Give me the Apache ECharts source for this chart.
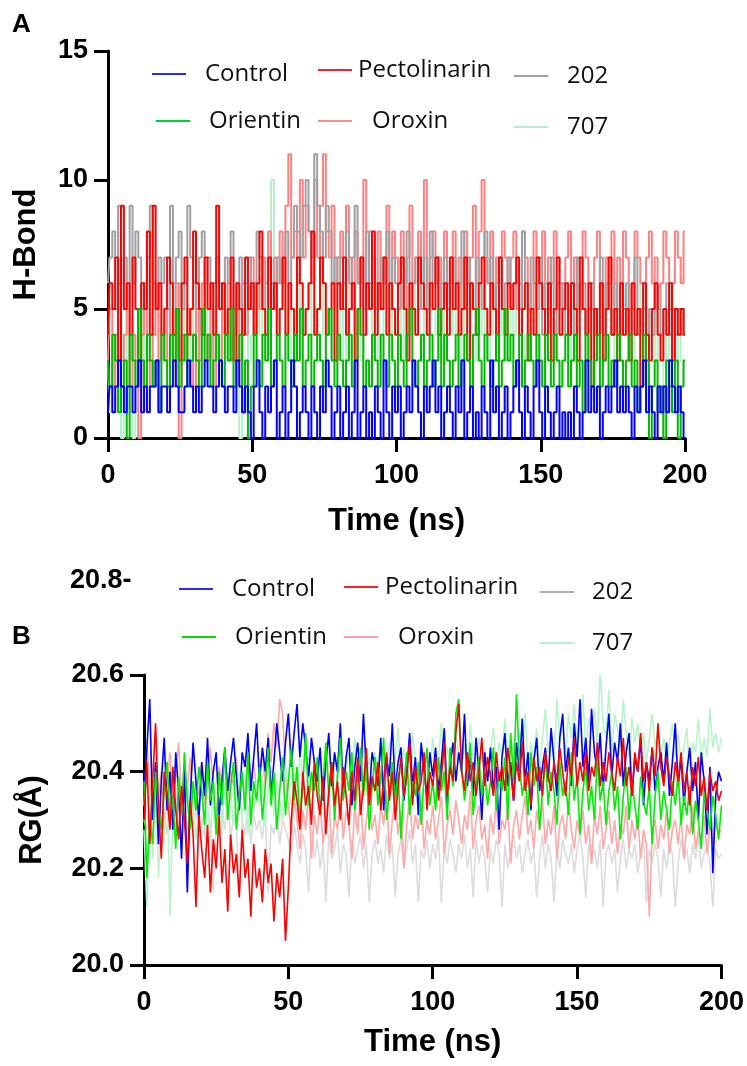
<!DOCTYPE html>
<html>
<head>
<meta charset="utf-8">
<script src="https://cdn.jsdelivr.net/npm/echarts@6/dist/echarts.min.js"></script>
<style>
  html, body { margin: 0; padding: 0; background: #fff; }
  #chart { width: 747px; height: 1066px; }
</style>
</head>
<body>
<div id="chart"></div>
<script>
// panel A: hydrogen bonds, one value per ns (0..200)
var hbControl = [
  1,2,1,2,3,2,1,2,2,1,2,3,1,2,1,2,2,3,1,2,
  2,1,2,3,2,1,1,2,3,2,1,2,1,2,3,2,2,1,2,3,
  2,1,2,2,1,3,2,1,2,1,0,2,3,1,0,2,1,2,3,0,
  1,2,0,1,3,2,0,1,2,1,0,2,1,0,2,1,3,2,0,1,
  2,0,1,2,0,1,3,0,1,2,0,1,0,2,1,0,3,1,0,2,
  1,2,0,1,2,1,3,2,1,0,2,1,2,3,1,2,0,1,2,1,
  0,2,1,3,0,1,2,0,1,0,2,1,0,3,1,2,0,1,2,0,
  1,2,3,1,0,2,1,0,2,3,1,0,2,1,0,1,2,0,1,0,
  1,0,2,1,0,1,3,1,2,1,2,0,1,2,1,2,3,1,2,1,
  2,1,0,2,1,2,3,1,2,1,0,2,1,2,1,3,2,1,2,1,
  0
];
var hbOrientin = [
  3,2,4,3,1,2,3,0,4,3,2,5,3,2,4,3,2,3,1,4,
  3,2,4,3,5,2,3,4,2,3,4,3,2,5,3,4,2,3,4,3,
  2,4,3,5,2,3,4,1,3,0,2,4,3,2,4,3,5,2,3,4,
  3,2,4,3,2,4,3,5,2,3,4,2,3,4,3,2,4,5,3,2,
  4,3,2,3,4,2,3,5,4,2,3,2,4,3,2,4,3,2,4,3,
  2,4,3,2,4,5,3,2,3,4,2,3,4,2,3,5,2,4,3,2,
  3,4,2,3,4,3,2,4,5,3,2,4,3,2,3,4,2,3,5,3,
  4,2,3,4,2,3,4,3,2,4,3,2,4,3,2,4,3,2,3,4,
  2,3,4,2,3,1,4,3,2,3,4,2,3,4,2,3,2,4,3,2,
  3,4,2,3,1,2,4,3,0,2,3,1,2,0,3,2,1,3,0,2,
  3
];
var hbPectolinarin = [
  4,6,5,7,3,9,5,6,4,7,5,3,6,5,8,4,9,5,6,4,
  5,7,6,4,5,3,6,7,4,5,8,6,5,4,7,5,6,4,9,5,
  6,4,5,7,3,6,5,4,7,5,6,4,6,8,5,4,7,5,6,4,
  5,7,4,6,5,3,7,6,4,5,6,8,4,5,7,6,4,5,6,3,
  6,5,7,4,5,6,3,5,7,4,6,5,8,4,6,5,7,4,6,5,
  4,6,7,5,3,6,5,4,7,6,5,4,6,5,7,4,5,6,4,7,
  5,6,4,5,7,3,6,5,4,6,7,5,4,6,5,3,7,5,4,6,
  5,6,7,4,5,6,3,5,4,7,6,5,4,6,3,5,7,4,5,6,
  4,6,5,3,7,5,4,6,2,5,4,6,3,5,7,4,5,3,6,4,
  5,3,6,4,5,2,6,4,3,5,6,4,3,5,4,6,3,5,4,5,
  4
];
var hbOroxin = [
  3,5,2,4,6,3,4,5,2,4,3,0,4,5,3,2,4,6,3,4,
  3,5,4,2,6,0,4,3,5,4,2,5,3,6,4,3,5,2,4,3,
  5,4,6,3,4,5,3,6,4,5,7,4,6,5,7,6,8,5,7,6,
  8,6,9,11,7,8,6,10,7,9,8,6,10,7,9,11,8,7,9,6,
  7,8,6,9,7,5,8,6,7,10,6,8,7,5,8,6,7,9,6,8,
  7,6,8,5,7,9,6,7,8,5,10,6,7,8,6,7,5,8,6,7,
  8,6,7,5,8,6,7,9,6,8,10,7,6,8,5,7,6,8,7,6,
  7,8,5,6,8,7,6,5,8,7,6,8,5,7,6,8,7,6,5,7,
  8,6,7,5,6,8,7,6,5,7,8,6,5,7,6,8,5,7,6,8,
  7,5,6,8,7,6,5,7,8,6,7,5,6,8,7,5,6,8,7,6,
  8
];
var hb202 = [
  6,7,8,5,9,6,7,5,9,6,8,7,5,6,7,9,6,5,7,6,
  7,5,9,6,7,8,5,6,9,7,6,5,7,8,6,7,5,6,7,6,
  5,7,6,8,5,6,7,5,6,7,5,6,8,7,5,6,7,6,5,7,
  6,7,8,6,7,9,8,7,9,10,8,7,11,9,8,7,9,8,6,7,
  6,7,5,8,6,7,9,6,7,5,8,6,7,6,5,7,6,8,5,7,
  6,5,7,6,8,5,6,7,5,6,7,5,8,6,7,5,6,7,5,6,
  7,5,6,8,5,7,6,5,7,6,5,8,6,7,5,6,7,5,6,7,
  5,6,7,5,8,6,5,7,6,5,7,4,6,5,7,4,6,5,6,4,
  5,6,4,7,5,6,4,5,6,4,5,7,4,6,5,4,6,5,4,5,
  6,4,5,7,4,5,6,4,5,4,6,5,4,5,6,4,5,4,5,4,
  5
];
var hb707 = [
  3,1,4,2,5,0,3,4,1,0,3,4,2,5,3,4,2,3,4,5,
  4,3,5,4,3,6,4,5,3,4,5,3,4,6,5,4,3,5,4,3,
  5,4,3,5,4,6,0,4,5,3,4,5,6,4,5,3,4,10,5,4,
  5,6,4,5,3,4,6,5,4,5,6,4,5,3,4,6,5,4,5,6,
  4,5,3,4,6,5,4,5,3,4,5,6,4,5,3,4,6,5,4,5,
  5,4,6,3,5,4,5,6,4,3,5,4,6,5,4,3,5,4,6,5,
  4,5,3,6,4,5,4,3,5,6,4,5,3,4,5,6,4,5,3,4,
  5,4,6,5,3,4,5,4,6,3,5,4,5,6,4,3,5,4,5,6,
  4,3,5,4,6,5,4,3,5,4,5,3,4,6,5,4,3,5,4,5,
  4,5,3,4,5,6,4,3,5,4,3,5,4,0,4,3,5,4,3,4,
  5
];

// panel B: radius of gyration (Å), one value per ns (0..200)
var rgControl = [
  20.35,20.45,20.55,20.30,20.42,20.25,20.38,20.47,20.32,20.40,20.28,20.44,20.36,20.22,20.41,20.15,20.34,20.46,20.38,20.30,
  20.42,20.35,20.47,20.33,20.40,20.44,20.31,20.38,20.45,20.36,20.42,20.47,20.39,20.32,20.44,20.41,20.48,20.36,20.43,20.50,
  20.38,20.45,20.40,20.47,20.35,20.42,20.50,20.44,20.38,20.46,20.52,20.41,20.48,20.54,20.43,20.50,20.45,20.39,20.47,20.42,
  20.38,20.45,20.34,20.42,20.48,20.37,20.44,20.40,20.50,20.36,20.43,20.47,20.33,20.41,20.46,20.38,20.52,20.40,20.35,20.44,
  20.41,20.37,20.47,20.32,20.43,20.39,20.50,20.36,20.42,20.45,20.34,20.40,20.48,20.37,20.43,20.31,20.46,20.40,20.35,20.44,
  20.39,20.45,20.36,20.42,20.49,20.33,20.41,20.46,20.38,20.44,20.40,20.52,20.37,20.43,20.35,20.47,20.40,20.30,20.44,20.38,
  20.45,20.36,20.41,20.28,20.43,20.48,20.37,20.42,20.34,20.46,20.40,20.51,20.38,20.44,20.32,20.42,20.47,20.36,20.41,20.45,
  20.38,20.49,20.42,20.35,20.47,20.52,20.40,20.45,20.37,20.50,20.43,20.55,20.41,20.47,20.38,20.53,20.44,20.40,20.48,20.36,
  20.45,20.52,20.39,20.46,20.42,20.50,20.37,20.44,20.48,20.35,20.43,20.40,20.47,20.33,20.42,20.38,20.45,20.36,20.41,20.44,
  20.38,20.46,20.35,20.42,20.50,20.37,20.43,20.33,20.40,20.45,20.36,20.42,20.30,20.44,20.38,20.27,20.41,20.19,20.35,20.40,
  20.38
];
var rgOrientin = [
  20.38,20.18,20.30,20.25,20.40,20.33,20.28,20.36,20.42,20.30,20.35,20.24,20.39,20.31,20.44,20.34,20.28,20.38,20.32,20.41,
  20.36,20.29,20.42,20.34,20.38,20.27,20.40,20.33,20.45,20.30,20.37,20.42,20.28,20.35,20.40,20.32,20.44,20.29,20.38,20.34,
  20.41,20.30,20.37,20.45,20.33,20.40,20.28,20.36,20.43,20.31,20.38,20.45,20.34,20.41,20.29,20.37,20.48,20.33,20.40,20.36,
  20.43,20.31,20.38,20.46,20.35,20.42,20.30,20.39,20.47,20.34,20.40,20.36,20.44,20.32,20.38,20.45,20.35,20.41,20.28,20.37,
  20.43,20.33,20.39,20.47,20.30,20.36,20.42,20.34,20.40,20.26,20.37,20.44,20.31,20.38,20.35,20.42,20.29,20.39,20.45,20.33,
  20.38,20.32,20.43,20.36,20.40,20.30,20.45,20.37,20.52,20.55,20.41,20.34,20.39,20.46,20.31,20.37,20.43,20.35,20.40,20.33,
  20.38,20.45,20.32,20.40,20.36,20.43,20.30,20.48,20.38,20.56,20.42,20.35,20.39,20.31,20.44,20.37,20.41,20.28,20.36,20.43,
  20.33,20.40,20.36,20.29,20.42,20.35,20.38,20.31,20.44,20.34,20.39,20.27,20.36,20.41,20.32,20.37,20.30,20.43,20.34,20.38,
  20.29,20.36,20.40,20.32,20.37,20.26,20.35,20.41,20.30,20.38,20.33,20.28,20.39,20.34,20.31,20.37,20.25,20.35,20.40,20.30,
  20.36,20.32,20.28,20.38,20.33,20.40,20.29,20.35,20.31,20.37,20.27,20.34,20.30,20.24,20.36,20.32,20.28,20.35,20.31,20.26,
  20.33
];
var rgPectolinarin = [
  20.30,20.42,20.25,20.38,20.50,20.33,20.22,20.40,20.35,20.28,20.41,20.32,20.26,20.37,20.30,20.21,20.34,20.27,20.12,20.31,
  20.24,20.18,20.29,20.15,20.26,20.20,20.31,20.17,20.24,20.11,20.27,20.19,20.23,20.14,20.28,20.18,20.22,20.10,20.25,20.16,
  20.20,20.13,20.24,20.17,20.21,20.09,20.19,20.14,20.22,20.05,20.16,20.30,20.38,20.34,20.28,20.40,20.33,20.37,20.29,20.42,
  20.35,20.31,20.39,20.27,20.36,20.42,20.33,20.38,20.30,20.41,20.35,20.29,20.40,20.34,20.43,20.31,20.37,20.45,20.33,20.39,
  20.36,20.42,20.32,20.38,20.44,20.34,20.40,20.30,20.37,20.43,20.35,20.39,20.46,20.33,20.41,20.36,20.38,20.44,20.32,20.40,
  20.37,20.43,20.34,20.39,20.46,20.35,20.41,20.38,20.48,20.54,20.40,20.36,20.44,20.38,20.42,20.35,20.40,20.47,20.37,20.43,
  20.39,20.35,20.44,20.38,20.41,20.36,20.45,20.40,20.34,20.42,20.38,20.46,20.36,20.40,20.33,20.43,20.38,20.41,20.35,20.44,
  20.39,20.36,20.42,20.38,20.45,20.40,20.35,20.43,20.39,20.47,20.37,20.42,20.38,20.44,20.36,20.41,20.39,20.46,20.37,20.42,
  20.38,20.44,20.40,20.36,20.43,20.39,20.47,20.37,20.41,20.35,20.44,20.40,20.48,20.38,20.42,20.36,20.45,20.39,20.50,20.41,
  20.37,20.43,20.39,20.35,20.42,20.38,20.44,20.36,20.40,20.33,20.41,20.37,20.43,20.35,20.39,20.32,20.40,20.36,20.38,20.34,
  20.36
];
var rgOroxin = [
  20.33,20.45,20.38,20.30,20.42,20.35,20.40,20.28,20.37,20.44,20.32,20.39,20.46,20.34,20.41,20.36,20.43,20.31,20.38,20.35,
  20.42,20.33,20.39,20.45,20.36,20.30,20.41,20.38,20.44,20.34,20.40,20.37,20.43,20.32,20.39,20.35,20.46,20.38,20.42,20.36,
  20.40,20.44,20.37,20.48,20.42,20.50,20.45,20.55,20.52,20.40,20.33,20.27,20.35,20.30,20.24,20.32,20.28,20.36,20.22,20.31,
  20.27,20.34,20.25,20.30,20.36,20.23,20.31,20.28,20.35,20.26,20.32,20.29,20.22,20.33,20.27,20.36,20.24,20.30,20.34,20.28,
  20.31,20.25,20.33,20.29,20.36,20.23,20.30,20.34,20.27,20.32,20.20,20.29,20.35,20.26,20.31,20.28,20.34,20.24,20.30,20.27,
  20.33,20.26,20.30,20.35,20.23,20.29,20.32,20.27,20.34,20.30,20.25,20.31,20.28,20.36,20.24,20.30,20.33,20.26,20.29,20.22,
  20.31,20.27,20.34,20.25,20.30,20.28,20.33,20.21,20.29,20.32,20.26,20.31,20.35,20.27,20.30,20.24,20.32,20.28,20.34,20.25,
  20.30,20.27,20.33,20.22,20.29,20.31,20.26,20.34,20.28,20.24,20.30,20.27,20.32,20.25,20.29,20.21,20.31,20.27,20.33,20.24,
  20.28,20.32,20.25,20.30,20.23,20.29,20.27,20.33,20.24,20.30,20.26,20.31,20.22,20.28,20.25,20.10,20.27,20.30,20.24,20.29,
  20.26,20.32,20.23,20.28,20.30,20.25,20.31,20.22,20.29,20.27,20.33,20.24,20.28,20.26,20.31,20.23,20.29,20.25,20.30,20.27,
  20.28
];
var rg202 = [
  20.30,20.28,20.33,20.26,20.31,20.35,20.29,20.32,20.27,20.34,20.30,20.36,20.28,20.33,20.31,20.25,20.34,20.29,20.32,20.27,
  20.31,20.26,20.33,20.29,20.15,20.30,20.27,20.32,20.28,20.34,20.26,20.31,20.29,20.14,20.30,20.27,20.33,20.25,20.31,20.28,
  20.30,20.26,20.32,20.15,20.29,20.27,20.31,20.25,20.30,20.28,20.26,20.23,20.29,20.25,20.21,20.27,20.24,20.15,20.28,20.22,
  20.26,20.20,20.25,20.13,20.27,20.22,20.24,20.28,20.19,20.25,20.23,20.14,20.26,20.21,20.24,20.27,20.20,20.25,20.13,20.23,
  20.26,20.21,20.24,20.19,20.27,20.22,20.25,20.14,20.23,20.26,20.20,20.24,20.28,20.21,20.25,20.13,20.24,20.22,20.26,20.20,
  20.25,20.22,20.27,20.13,20.24,20.21,20.26,20.23,20.19,20.25,20.22,20.27,20.20,20.24,20.14,20.26,20.21,20.25,20.22,20.15,
  20.24,20.21,20.26,20.23,20.12,20.25,20.20,20.24,20.27,20.22,20.25,20.19,20.23,20.26,20.21,20.24,20.14,20.22,20.27,20.20,
  20.25,20.22,20.13,20.24,20.20,20.26,20.23,20.21,20.25,20.19,20.24,20.27,20.22,20.14,20.25,20.21,20.24,20.20,20.26,20.12,
  20.23,20.25,20.21,20.24,20.15,20.22,20.26,20.20,20.24,20.22,20.25,20.19,20.23,20.26,20.13,20.24,20.21,20.25,20.22,20.14,
  20.24,20.20,20.25,20.23,20.12,20.21,20.26,20.22,20.24,20.19,20.25,20.22,20.27,20.20,20.23,20.25,20.21,20.12,20.24,20.22,
  20.23
];
var rg707 = [
  20.28,20.12,20.35,20.22,20.38,20.18,20.30,20.25,20.40,20.10,20.33,20.27,20.36,20.24,20.31,20.38,20.29,20.34,20.26,20.32,
  20.37,20.28,20.33,20.25,20.39,20.30,20.35,20.27,20.38,20.31,20.36,20.29,20.34,20.40,20.30,20.37,20.27,20.35,20.32,20.38,
  20.33,20.39,20.29,20.36,20.41,20.31,20.38,20.34,20.30,20.42,20.36,20.33,20.40,20.35,20.44,20.38,20.32,20.41,20.36,20.43,
  20.37,20.42,20.34,20.45,20.39,20.36,20.43,20.38,20.46,20.35,20.41,20.44,20.38,20.47,20.40,20.36,20.45,20.39,20.43,20.37,
  20.44,20.40,20.47,20.38,20.42,20.46,20.36,20.43,20.49,20.39,20.45,20.41,20.37,20.48,20.42,20.40,20.46,20.38,20.44,20.41,
  20.47,20.39,20.43,20.50,20.40,20.45,20.42,20.38,20.48,20.44,20.41,20.46,20.39,20.50,20.43,20.40,20.47,20.42,20.45,20.38,
  20.44,20.49,20.41,20.46,20.43,20.51,20.40,20.47,20.44,20.42,20.48,20.45,20.52,20.41,20.46,20.43,20.49,20.40,20.47,20.53,
  20.44,20.48,20.42,20.55,20.46,20.50,20.43,20.52,20.47,20.54,20.45,20.49,20.56,20.44,20.51,20.48,20.53,20.46,20.61,20.50,
  20.47,20.57,20.44,20.52,20.49,20.45,20.55,20.48,20.43,20.51,20.46,20.50,20.44,20.48,20.42,20.47,20.52,20.45,20.49,20.43,
  20.47,20.41,20.46,20.50,20.43,20.48,20.42,20.45,20.49,20.40,20.46,20.44,20.51,20.42,20.47,20.43,20.53,20.45,20.48,20.44,
  20.47
];

function pairs(values) {
  var out = [];
  for (var i = 0; i < values.length; i++) {
    out.push([i, values[i]]);
  }
  return out;
}

function lineSeries(name, values, color, axisIdx, width, step) {
  return {
    name: name,
    type: 'line',
    xAxisIndex: axisIdx,
    yAxisIndex: axisIdx,
    data: pairs(values),
    step: step,
    showSymbol: false,
    symbol: 'none',
    lineStyle: { color: color, width: width },
    itemStyle: { color: color },
    emphasis: { disabled: true },
    animation: false
  };
}

function legendItem(name, color, left, top, gap) {
  return {
    left: left,
    top: top,
    padding: 0,
    icon: 'rect',
    itemWidth: 34,
    itemHeight: 2,
    data: [{ name: name, itemStyle: { color: color } }],
    textStyle: {
      fontFamily: '"Open Sans", "Noto Sans", sans-serif',
      fontSize: 24,
      color: '#111',
      padding: [0, 0, 0, gap]
    }
  };
}

var tickFont = {
  fontFamily: '"Liberation Sans", Arial, sans-serif',
  fontWeight: 'bold',
  fontSize: 27,
  color: '#000'
};
var nameFont = {
  fontFamily: '"Liberation Sans", Arial, sans-serif',
  fontWeight: 'bold',
  fontSize: 31,
  color: '#000'
};
var axisLine = { show: true, onZero: false, lineStyle: { color: '#000', width: 3 } };
var axisTick = { show: true, length: 14, lineStyle: { color: '#000', width: 3 } };

var chart = echarts.init(document.getElementById('chart'), null, { renderer: 'canvas' });

var option = {
  backgroundColor: '#fff',
  animation: false,
  grid: [
    { left: 108, right: 62, top: 51, bottom: 628 },
    { left: 144, right: 25, top: 675, bottom: 101 }
  ],
  legend: [
    legendItem('Control', '#2a2aff', 152, 62, 14),
    legendItem('Pectolinarin', '#ff2020', 318, 58, 1),
    legendItem('202', '#a0a0a0', 514, 64, 14),
    legendItem('Orientin', '#00d030', 156, 109, 14),
    legendItem('Oroxin', '#ff8c8c', 318, 109, 15),
    legendItem('707', '#b4f0c8', 514, 115, 14),
    legendItem('Control', '#2a2aff', 179, 577, 14),
    legendItem('Pectolinarin', '#ff2020', 344, 575, 2),
    legendItem('202', '#b0b0b0', 540, 580, 13),
    legendItem('Orientin', '#00e000', 182, 625, 14),
    legendItem('Oroxin', '#ff9c9c', 344, 625, 15),
    legendItem('707', '#b4f0c8', 540, 631, 13)
  ],
  xAxis: [
    {
      gridIndex: 0, type: 'value', min: 0, max: 200, interval: 50,
      name: 'Time (ns)', nameLocation: 'middle', nameGap: 68, nameTextStyle: nameFont,
      axisLine: axisLine, axisTick: axisTick,
      axisLabel: Object.assign({ margin: 24 }, tickFont),
      splitLine: { show: false }
    },
    {
      gridIndex: 1, type: 'value', min: 0, max: 200, interval: 50,
      name: 'Time (ns)', nameLocation: 'middle', nameGap: 62, nameTextStyle: nameFont,
      axisLine: axisLine, axisTick: axisTick,
      axisLabel: Object.assign({ margin: 24 }, tickFont),
      splitLine: { show: false }
    }
  ],
  yAxis: [
    {
      gridIndex: 0, type: 'value', min: 0, max: 15, interval: 5,
      name: 'H-Bond', nameLocation: 'middle', nameGap: 66, nameTextStyle: nameFont,
      axisLine: axisLine, axisTick: axisTick,
      axisLabel: Object.assign({ margin: 20 }, tickFont),
      splitLine: { show: false }
    },
    {
      gridIndex: 1, type: 'value', min: 20, max: 20.6, interval: 0.2,
      name: 'RG(Å)', nameLocation: 'middle', nameGap: 96, nameTextStyle: nameFont,
      axisLine: axisLine, axisTick: axisTick,
      axisLabel: Object.assign({
        margin: 20,
        formatter: function (v) { return v.toFixed(1); }
      }, tickFont),
      splitLine: { show: false }
    }
  ],
  graphic: [
    { type: 'text', left: 12, top: 12, style: { text: 'A', font: 'bold 26px "Liberation Sans", Arial, sans-serif', fill: '#000' } },
    { type: 'text', left: 12, top: 624, style: { text: 'B', font: 'bold 26px "Liberation Sans", Arial, sans-serif', fill: '#000' } },
    { type: 'text', left: 70, top: 567, style: { text: '20.8-', font: 'bold 27px "Liberation Sans", Arial, sans-serif', fill: '#000' } }
  ],
  series: [
    lineSeries('707', hb707, '#b4f0c8', 0, 2, 'middle'),
    lineSeries('Oroxin', hbOroxin, '#ff8080', 0, 2, 'middle'),
    lineSeries('202', hb202, '#a0a0a4', 0, 2, 'middle'),
    lineSeries('Pectolinarin', hbPectolinarin, '#ff0000', 0, 2, 'middle'),
    lineSeries('Orientin', hbOrientin, '#00b800', 0, 2, 'middle'),
    lineSeries('Control', hbControl, '#0000ff', 0, 2, 'middle'),

    lineSeries('202', rg202, '#dcdcdc', 1, 1.6, false),
    lineSeries('Oroxin', rgOroxin, '#ffa8a8', 1, 1.6, false),
    lineSeries('707', rg707, '#b8f5cc', 1, 1.6, false),
    lineSeries('Control', rgControl, '#0000ff', 1, 1.6, false),
    lineSeries('Orientin', rgOrientin, '#00ee00', 1, 1.6, false),
    lineSeries('Pectolinarin', rgPectolinarin, '#ff0000', 1, 1.6, false)
  ]
};

chart.setOption(option);
</script>
</body>
</html>
